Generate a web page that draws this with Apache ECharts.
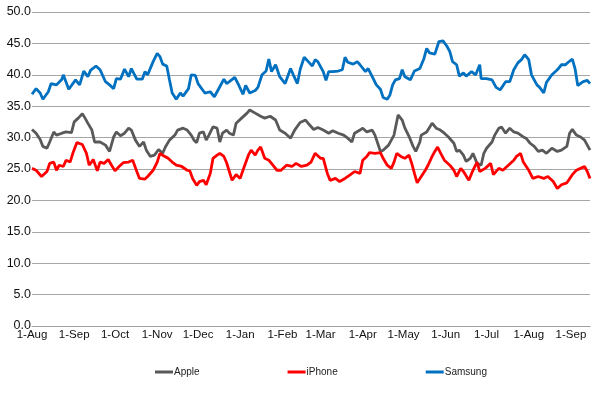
<!DOCTYPE html>
<html>
<head>
<meta charset="utf-8">
<script src="https://cdn.jsdelivr.net/npm/echarts@6/dist/echarts.min.js"></script>
<style>
    body { margin: 0; background: #fff; }
    #chart { width: 600px; height: 398px; }
</style>
</head>
<body>
<div id="chart"></div>
<script>
var monthNames = ["Jan", "Feb", "Mar", "Apr", "May", "Jun", "Jul", "Aug", "Sep", "Oct", "Nov", "Dec"];
var startYear = 2012, startMonth = 7, dayCount = 411;

// [day since 1-Aug, value]
var appleData = [
    [0, 31.3], [3, 30.7], [6, 29.7], [8, 28.6], [11, 28.3], [13, 29.3], [16, 30.9], [18, 30.4],
    [22, 30.7], [25, 30.9], [29, 30.8], [31, 32.5], [34, 33.1], [37, 33.8], [39, 33.1], [41, 32.3],
    [44, 31.2], [46, 29.3], [50, 29.3], [54, 28.8], [57, 27.8], [60, 30.1], [62, 30.9], [65, 30.3],
    [68, 30.7], [71, 31.5], [73, 31.2], [76, 29.6], [79, 28.6], [82, 29.3], [84, 28.0], [87, 27.0],
    [90, 27.2], [93, 28.1], [96, 27.5], [98, 28.5], [101, 29.6], [105, 30.4], [107, 31.2], [111, 31.5],
    [114, 31.2], [117, 30.4], [119, 29.6], [121, 29.2], [123, 30.7], [126, 30.9], [128, 29.6], [130, 30.4],
    [133, 31.7], [136, 31.5], [138, 29.3], [140, 30.7], [143, 31.2], [145, 30.7], [148, 30.4], [150, 32.3],
    [154, 33.1], [158, 33.9], [160, 34.4], [164, 33.9], [168, 33.4], [171, 33.1], [175, 33.4], [179, 32.8],
    [182, 31.2], [186, 30.7], [190, 29.9], [193, 31.2], [197, 32.4], [201, 32.8], [204, 32.0], [207, 31.3],
    [210, 31.6], [214, 31.2], [218, 30.7], [221, 31.1], [225, 30.7], [229, 30.4], [232, 29.9], [235, 29.3],
    [237, 30.7], [241, 31.2], [243, 31.5], [246, 30.9], [250, 31.2], [252, 30.4], [254, 29.1], [256, 27.8],
    [258, 28.0], [262, 28.8], [264, 29.6], [266, 30.4], [269, 33.6], [272, 32.8], [274, 31.5], [277, 30.2],
    [280, 28.6], [282, 27.8], [285, 29.3], [286, 30.4], [290, 30.9], [294, 32.3], [297, 31.5], [300, 31.2],
    [303, 30.7], [306, 30.1], [310, 29.1], [312, 27.8], [314, 28.0], [317, 27.2], [319, 26.2], [322, 26.7],
    [324, 27.5], [327, 25.9], [330, 25.6], [332, 27.5], [334, 28.3], [338, 29.3], [340, 30.4], [343, 31.5],
    [345, 31.7], [348, 30.7], [351, 31.5], [354, 30.9], [357, 30.7], [361, 30.1], [363, 29.9], [366, 29.1],
    [369, 28.6], [372, 27.8], [375, 28.0], [378, 27.5], [382, 28.3], [386, 27.8], [389, 28.0], [393, 28.6],
    [395, 30.7], [397, 31.3], [400, 30.4], [403, 30.1], [406, 29.6], [408, 28.8], [410, 28.0]
];

var iphoneData = [
    [0, 25.1], [3, 24.8], [7, 23.8], [11, 24.6], [13, 25.9], [16, 26.1], [18, 24.8], [20, 25.6],
    [23, 25.4], [25, 26.4], [28, 26.1], [30, 27.5], [33, 29.2], [37, 28.9], [40, 27.5], [42, 25.6],
    [45, 26.5], [48, 24.7], [50, 26.1], [53, 25.9], [56, 26.5], [59, 25.4], [61, 24.7], [64, 25.4],
    [67, 26.0], [71, 26.1], [74, 26.4], [77, 24.6], [79, 23.5], [83, 23.4], [85, 23.8], [89, 24.8],
    [92, 26.1], [94, 27.5], [96, 27.2], [100, 26.7], [103, 26.1], [106, 25.6], [110, 25.4], [114, 24.8],
    [116, 24.7], [118, 23.5], [121, 22.4], [123, 23.0], [126, 23.2], [128, 22.5], [131, 24.3], [133, 26.7],
    [136, 27.2], [138, 27.5], [141, 27.0], [143, 26.0], [145, 24.6], [147, 23.2], [150, 24.1], [153, 23.5],
    [155, 24.8], [159, 27.2], [161, 28.0], [164, 27.2], [166, 28.0], [168, 28.5], [171, 26.7], [174, 26.4],
    [177, 25.6], [180, 24.8], [183, 24.8], [187, 25.6], [191, 25.4], [194, 25.9], [198, 25.4], [202, 25.6],
    [205, 26.1], [208, 27.5], [212, 26.7], [214, 26.7], [217, 24.3], [219, 23.2], [223, 23.5], [226, 23.0],
    [230, 23.5], [234, 24.1], [237, 24.6], [241, 24.3], [243, 26.4], [246, 27.0], [248, 27.6], [252, 27.5],
    [256, 27.6], [258, 26.7], [261, 25.6], [264, 25.1], [266, 26.1], [268, 27.5], [271, 27.0], [274, 26.7],
    [277, 27.2], [279, 25.9], [281, 24.3], [283, 22.8], [286, 23.8], [289, 24.8], [291, 25.6], [294, 27.0],
    [296, 27.8], [298, 28.5], [301, 27.2], [303, 26.4], [307, 25.6], [310, 24.8], [312, 23.8], [315, 25.1],
    [317, 24.6], [321, 23.2], [324, 24.8], [327, 26.1], [329, 24.6], [333, 25.1], [337, 25.9], [339, 24.1],
    [343, 25.1], [346, 24.8], [350, 25.6], [354, 26.4], [356, 27.0], [359, 27.5], [361, 26.1], [365, 24.8],
    [368, 23.5], [372, 23.8], [376, 23.5], [379, 23.8], [383, 23.0], [386, 21.9], [389, 22.5], [393, 22.8],
    [397, 24.1], [400, 24.8], [403, 25.1], [406, 25.4], [408, 24.6], [410, 23.5]
];

var samsungData = [
    [0, 36.9], [3, 37.8], [6, 37.1], [8, 36.1], [12, 37.3], [14, 38.6], [18, 38.4], [22, 39.3],
    [23, 40.0], [27, 37.7], [32, 39.2], [35, 38.4], [38, 40.6], [41, 39.7], [43, 40.7], [47, 41.4],
    [50, 40.8], [54, 38.9], [57, 38.4], [60, 37.8], [62, 39.4], [65, 39.3], [68, 40.9], [71, 39.7],
    [73, 41.0], [77, 39.3], [81, 39.3], [83, 40.5], [85, 40.0], [89, 42.1], [92, 43.4], [94, 42.9],
    [96, 41.7], [99, 41.4], [101, 39.2], [103, 37.1], [106, 36.1], [109, 37.1], [111, 36.6], [115, 37.8],
    [117, 40.0], [120, 39.9], [122, 38.6], [127, 37.1], [131, 37.3], [134, 36.5], [138, 38.1], [141, 39.3],
    [143, 38.6], [145, 38.9], [149, 39.6], [152, 38.3], [155, 36.9], [157, 38.3], [160, 37.1], [164, 37.5],
    [166, 38.0], [169, 40.0], [172, 40.6], [174, 42.5], [176, 40.5], [179, 41.6], [182, 39.7], [186, 38.6],
    [190, 41.0], [192, 40.0], [195, 38.6], [197, 40.8], [200, 42.8], [203, 42.1], [206, 41.4], [208, 42.4],
    [210, 42.1], [214, 40.5], [216, 39.1], [218, 40.5], [221, 40.5], [225, 40.6], [228, 40.8], [230, 42.8],
    [232, 42.0], [236, 41.7], [239, 42.1], [241, 41.6], [245, 40.5], [247, 41.0], [250, 39.7], [253, 38.4],
    [256, 37.7], [258, 36.4], [261, 36.1], [263, 36.8], [265, 38.4], [267, 39.2], [270, 39.4], [272, 40.8],
    [274, 39.7], [278, 39.2], [281, 40.6], [285, 41.0], [288, 42.6], [290, 44.2], [292, 43.5], [296, 43.3],
    [299, 45.3], [302, 45.4], [305, 44.5], [307, 43.7], [309, 42.1], [312, 41.6], [314, 39.8], [317, 40.3],
    [319, 39.8], [323, 40.5], [326, 40.0], [329, 41.6], [330, 39.4], [334, 39.4], [338, 39.2], [341, 38.0],
    [344, 37.6], [348, 38.9], [351, 38.9], [354, 40.8], [357, 41.9], [360, 42.5], [362, 43.2], [365, 42.4],
    [367, 40.0], [371, 38.4], [373, 38.0], [376, 37.1], [378, 38.8], [382, 40.0], [386, 40.8], [389, 41.6],
    [392, 41.6], [394, 42.0], [397, 42.5], [399, 41.0], [401, 38.3], [405, 38.9], [408, 39.1], [410, 38.6]
];

var Chart = {
    makeDays: function () {
        var aList = [];
        for (var i = 0; i < dayCount; i++) {
            var d = new Date(startYear, startMonth, 1 + i);
            aList.push(d.getDate() + "-" + monthNames[d.getMonth()]);
        }
        return aList;
    },
    makeSeries: function (aName, aColor, aData) {
        return {
            name: aName,
            type: "line",
            data: aData,
            showSymbol: false,
            symbol: "none",
            lineStyle: { color: aColor, width: 2.8 },
            itemStyle: { color: aColor },
            emphasis: { disabled: true }
        };
    },
    Load: function () {
        var me = Chart;
        var aChart = echarts.init(document.getElementById("chart"));
        var aOption = {
            animation: false,
            backgroundColor: "#fff",
            grid: { left: 32, right: 10, top: 12, bottom: 72 },
            legend: {
                left: 150,
                top: 362,
                icon: "rect",
                itemWidth: 18,
                itemHeight: 3,
                itemGap: 88,
                textStyle: { color: "#222", fontSize: 10, fontFamily: "Liberation Sans", padding: [0, 0, 0, -4] },
                data: ["Apple", "iPhone", "Samsung"]
            },
            xAxis: {
                type: "category",
                boundaryGap: false,
                data: me.makeDays(),
                axisLine: { lineStyle: { color: "#a0a0a0", width: 1 } },
                axisTick: { show: false },
                axisLabel: {
                    interval: function (index, value) { return value.indexOf("1-") === 0; },
                    color: "#111",
                    fontSize: 11.5,
                    fontFamily: "Liberation Sans",
                    margin: 3
                },
                splitLine: { show: false }
            },
            yAxis: {
                type: "value",
                min: 0,
                max: 50,
                interval: 5,
                axisLine: { show: false },
                axisTick: { show: false },
                axisLabel: {
                    formatter: function (v) { return v.toFixed(1); },
                    color: "#111",
                    fontSize: 12.5,
                    fontFamily: "Liberation Sans",
                    margin: 1
                },
                splitLine: { lineStyle: { color: "#a6a6a6", width: 1 } }
            },
            series: [
                me.makeSeries("Apple", "#595959", appleData),
                me.makeSeries("iPhone", "#ff0000", iphoneData),
                me.makeSeries("Samsung", "#0070c0", samsungData)
            ]
        };
        aChart.setOption(aOption);
    }
};

Chart.Load();
</script>
</body>
</html>
